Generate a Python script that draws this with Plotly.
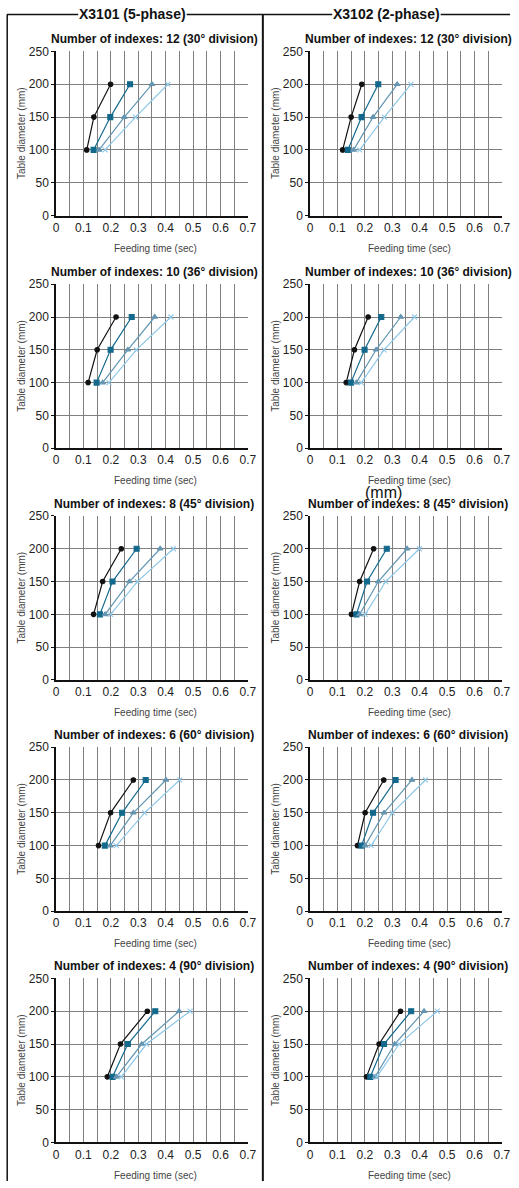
import plotly.graph_objects as go

W, H = 519, 1188

diameters = [100, 150, 200]
x_ticks = [0, 0.1, 0.2, 0.3, 0.4, 0.5, 0.6, 0.7]
y_ticks = [0, 50, 100, 150, 200, 250]

panel_titles = [
    "Number of indexes: 12 (30° division)",
    "Number of indexes: 10 (36° division)",
    "Number of indexes: 8 (45° division)",
    "Number of indexes: 6 (60° division)",
    "Number of indexes: 4 (90° division)",
]
column_titles = ["X3101 (5-phase)", "X3102 (2-phase)"]

# X3101 (5-phase): four curves per panel, feeding time at 100/150/200 mm
x3101_12 = [[0.112, 0.138, 0.199], [0.137, 0.198, 0.270], [0.157, 0.249, 0.350], [0.179, 0.290, 0.408]]
x3101_10 = [[0.117, 0.150, 0.219], [0.148, 0.199, 0.276], [0.170, 0.262, 0.360], [0.193, 0.293, 0.419]]
x3101_8 = [[0.137, 0.170, 0.238], [0.160, 0.206, 0.294], [0.179, 0.268, 0.380], [0.199, 0.297, 0.428]]
x3101_6 = [[0.155, 0.199, 0.282], [0.178, 0.241, 0.327], [0.198, 0.282, 0.401], [0.220, 0.323, 0.451]]
x3101_4 = [[0.187, 0.235, 0.333], [0.206, 0.262, 0.362], [0.220, 0.313, 0.449], [0.238, 0.330, 0.489]]

# X3102 (2-phase)
x3102_12 = [[0.119, 0.150, 0.189], [0.138, 0.188, 0.249], [0.159, 0.230, 0.318], [0.181, 0.271, 0.368]]
x3102_10 = [[0.132, 0.162, 0.212], [0.149, 0.199, 0.260], [0.169, 0.241, 0.331], [0.187, 0.270, 0.381]]
x3102_8 = [[0.151, 0.181, 0.232], [0.169, 0.208, 0.280], [0.181, 0.249, 0.354], [0.201, 0.276, 0.399]]
x3102_6 = [[0.173, 0.201, 0.269], [0.188, 0.230, 0.312], [0.201, 0.270, 0.372], [0.223, 0.300, 0.421]]
x3102_4 = [[0.206, 0.252, 0.330], [0.220, 0.270, 0.369], [0.237, 0.309, 0.416], [0.244, 0.325, 0.464]]

panels_left = [x3101_12, x3101_10, x3101_8, x3101_6, x3101_4]
panels_right = [x3102_12, x3102_10, x3102_8, x3102_6, x3102_4]

series_colors = ["#111111", "#13698c", "#6496b2", "#8fc8e8"]
series_symbols = ["circle", "square", "triangle-up", "x-thin"]
series_sizes = [4.5, 5, 5, 5]

FONT = "Liberation Sans, Arial, sans-serif"

# pixel layout
col_x = [(54.3, 250.7), (314.3, 510.7)]
row_tops = [45, 280.5, 515, 749, 983]
plot_h = 166

fig = go.Figure()
layout = dict(
    width=W, height=H,
    margin=dict(l=0, r=0, t=0, b=0),
    paper_bgcolor="white", plot_bgcolor="white",
    showlegend=False,
    annotations=[], shapes=[],
)

def px_x(p):
    return p / W

def px_y(p):
    return 1 - p / H

GRID = "#808080"

ax = 0
for c, panels in enumerate([panels_left, panels_right]):
    for r, data in enumerate(panels):
        ax += 1
        sfx = "" if ax == 1 else str(ax)
        top = row_tops[r]
        bot = top + plot_h
        x0, x1 = col_x[c]
        layout["xaxis" + sfx] = dict(
            domain=[px_x(x0), px_x(x1)], range=[0, 0.7], anchor="y" + sfx,
            tickvals=x_ticks, ticktext=[("0" if v == 0 else f"{v:.1f}") for v in x_ticks],
            showgrid=True, gridcolor=GRID, gridwidth=1.4,
            minor=dict(dtick=0.05, tick0=0, showgrid=True, gridcolor=GRID, gridwidth=1.4),
            showline=True, linecolor="#111111", linewidth=1.5,
            ticks="", zeroline=False, fixedrange=True,
            tickfont=dict(family=FONT, size=12, color="#222222"),
        )
        layout["yaxis" + sfx] = dict(
            domain=[px_y(bot), px_y(top)], range=[0, 250], anchor="x" + sfx,
            tickvals=y_ticks, showgrid=True, gridcolor=GRID, gridwidth=1.4,
            showline=True, linecolor="#111111", linewidth=1.5,
            ticks="outside", ticklen=3, tickcolor="#111111", tickwidth=1.2,
            zeroline=False, fixedrange=True,
            tickfont=dict(family=FONT, size=12, color="#222222"),
        )
        for s, xs in enumerate(data):
            fig.add_trace(go.Scatter(
                x=xs, y=diameters, mode="lines+markers",
                xaxis="x" + sfx, yaxis="y" + sfx,
                line=dict(color=series_colors[s], width=1.2),
                marker=dict(symbol=series_symbols[s], size=series_sizes[s],
                            color=series_colors[s],
                            line=dict(color=series_colors[s], width=1.1)),
                hoverinfo="x+y",
            ))
        tcx = 155 if c == 0 else 415
        layout["annotations"].append(dict(
            text="<b>" + panel_titles[r] + "</b>", xref="paper", yref="paper",
            x=px_x(tcx), y=px_y(top - 12.5), xanchor="center", yanchor="middle",
            showarrow=False, font=dict(family=FONT, size=12, color="#111111"),
        ))
        layout["annotations"].append(dict(
            text="Feeding time (sec)", xref="paper", yref="paper",
            x=px_x(156 if c == 0 else 416), y=px_y(bot + 33),
            xanchor="center", yanchor="middle", showarrow=False,
            font=dict(family=FONT, size=10, color="#444444"),
        ))
        layout["annotations"].append(dict(
            text="Table diameter (mm)", xref="paper", yref="paper",
            x=px_x(19 if c == 0 else 279), y=px_y((top + bot) / 2),
            xanchor="center", yanchor="middle", showarrow=False, textangle=-90,
            font=dict(family=FONT, size=10, color="#444444"),
        ))

# column headers
for c, t in enumerate(column_titles):
    layout["annotations"].append(dict(
        text="<b>" + t + "</b>", xref="paper", yref="paper",
        x=px_x(132.5 if c == 0 else 392.5), y=px_y(7.5),
        xanchor="center", yanchor="middle", showarrow=False,
        font=dict(family=FONT, size=14, color="#111111"),
    ))

# stray label in the original
layout["annotations"].append(dict(
    text="(mm)", xref="paper", yref="paper", x=px_x(389), y=px_y(491),
    xanchor="center", yanchor="middle", showarrow=False,
    font=dict(family=FONT, size=16, color="#111111"),
))

# frame lines
ytop = px_y(7.5)
frame = [
    (4, 77, ytop, ytop), (188, 337, ytop, ytop), (448, 519, ytop, ytop),
]
for a, b, y0, y1 in frame:
    layout["shapes"].append(dict(type="line", xref="paper", yref="paper",
                                 x0=px_x(a), x1=px_x(b), y0=y0, y1=y1,
                                 line=dict(color="#111111", width=1.5)))
for xv, wv in [(4.3, 1.5), (266, 2)]:
    layout["shapes"].append(dict(type="line", xref="paper", yref="paper",
                                 x0=px_x(xv), x1=px_x(xv), y0=ytop, y1=0,
                                 line=dict(color="#111111", width=wv)))

fig.update_layout(**layout)
fig.write_html(
    "out.html",
    config={"displayModeBar": False},
    post_script="document.body.style.margin='0';document.body.style.padding='0';"
                "document.body.style.overflow='hidden';"
                "document.documentElement.style.overflow='hidden';",
)
